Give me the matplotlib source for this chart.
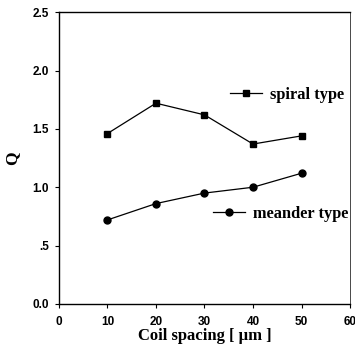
import matplotlib
matplotlib.use("Agg")
import matplotlib.pyplot as plt
from matplotlib.lines import Line2D

# data
spacing = [10, 20, 30, 40, 50]
q_spiral = [1.46, 1.72, 1.62, 1.37, 1.44]
q_meander = [0.72, 0.86, 0.95, 1.00, 1.12]

xticks = [0, 10, 20, 30, 40, 50, 60]
yticks = [0.0, 0.5, 1.0, 1.5, 2.0, 2.5]
ytick_labels = ["0.0", ".5", "1.0", "1.5", "2.0", "2.5"]

fig = plt.figure(figsize=(3.55, 3.47), dpi=100)
ax = fig.add_axes([0.166, 0.124, 0.820, 0.841])

ax.plot(spacing, q_spiral, color="black", lw=0.9, marker="s", ms=4.5)
ax.plot(spacing, q_meander, color="black", lw=0.9, marker="o", ms=5)

ax.set_xlim(0, 60)
ax.set_ylim(0, 2.5)
ax.set_xticks(xticks)
ax.set_yticks(yticks)
ax.set_yticklabels(ytick_labels)
for lab in ax.get_xticklabels() + ax.get_yticklabels():
    lab.set_family("Liberation Sans")
    lab.set_weight("bold")
    lab.set_fontsize(8.5)
ax.tick_params(length=3, width=0.8)
ax.tick_params(axis="x", pad=6)
ax.tick_params(axis="y", pad=4)

for s in ax.spines.values():
    s.set_linewidth(1.0)
ax.spines["right"].set_linewidth(0.5)

ax.set_xlabel("Coil spacing [ μm ]", family="Liberation Serif",
              weight="bold", fontsize=12, labelpad=0)
ax.set_ylabel("Q", family="Liberation Serif", weight="bold", fontsize=12.5,
              labelpad=9)

# two separate legend entries
h1 = Line2D([], [], color="black", lw=0.9, marker="s", ms=4.5)
h2 = Line2D([], [], color="black", lw=0.9, marker="o", ms=5)
leg_font = {"family": "Liberation Serif", "weight": "bold", "size": 11.8}
leg1 = ax.legend([h1], ["spiral type"], loc="center left",
                 bbox_to_anchor=(0.588, 0.716), frameon=False, prop=leg_font,
                 handlelength=1.95, handletextpad=0.5, borderpad=0,
                 borderaxespad=0)
ax.add_artist(leg1)
ax.legend([h2], ["meander type"], loc="center left",
          bbox_to_anchor=(0.529, 0.308), frameon=False, prop=leg_font,
          handlelength=1.95, handletextpad=0.5, borderpad=0, borderaxespad=0)

fig.savefig("out.png", dpi=100)
